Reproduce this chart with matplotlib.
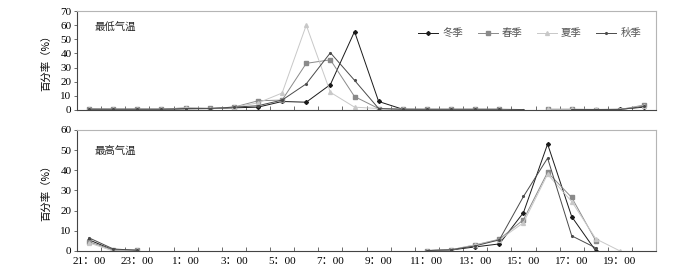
import numpy as np
import matplotlib.pyplot as plt

plt.rcParams['font.family'] = ['Liberation Serif', 'Noto Sans CJK SC']

nan = np.nan

# 21:00 .. 20:00 (24 hourly categories)
hours = [21, 22, 23] + list(range(0, 21))
tick_labels = ['%d：00' % h for h in hours[::2]]
seasons = ['冬季', '春季', '夏季', '秋季']

# 最低气温 (%)
low_winter = [0.5, 0.5, 0.5, 0.5, 0.8, 1, 1.5, 2, 6, 5.5, 18, 55.5, 6, 0.5, 0.3, 0.3, 0.3, 0.3, nan, 0.3, 0.3, 0.3, 0.5, 2]
low_spring = [0.8, 0.5, 0.5, 0.5, 1.5, 1.2, 2, 6.5, 7, 33, 35.5, 9.5, 1, 0.5, 0.5, 0.5, 0.5, 0.5, nan, 0.5, 0.5, 0.3, 0.3, 3.5]
low_summer = [0.5, 0.5, 0.5, 0.5, 1.5, 1, 2, 5, 12, 60, 12.5, 2, 1, 0.5, 0.5, 0.5, 0.5, 0.5, nan, 0.5, 0.5, 0.5, 0.3, 3]
low_autumn = [0.5, 0.5, 0.5, 0.5, 1, 1, 2, 3, 7, 18.5, 40.5, 21, 1, 0.5, 0.5, 0.5, 0.5, 0.5, 0.3, nan, 0.3, 0.3, 0.3, 2.5]

# 最高气温 (%)
high_winter = [5.5, 0.5, 0.3] + [nan] * 11 + [0.2, 0.5, 2, 3.5, 19, 53, 17, 0, nan, nan]
high_spring = [4.5, 0.5, 0.5] + [nan] * 11 + [0.2, 0.6, 3, 5.8, 15.5, 39, 26.5, 5, nan, nan]
high_summer = [4, 0, 0.3] + [nan] * 11 + [0.2, 0.6, 3, 5.5, 14, 38, 24.5, 6, 0, nan]
high_autumn = [6.5, 1, 0.3] + [nan] * 11 + [0.2, 0.6, 2.5, 5.5, 27, 46, 7.5, 1.5, nan, nan]

styles = [
    dict(color='#1a1a1a', marker='D', markersize=2),
    dict(color='#8a8a8a', marker='s', markersize=2.8),
    dict(color='#c8c8c8', marker='^', markersize=2.8),
    dict(color='#4a4a4a', marker='.', markersize=2.5),
]

x = np.arange(len(hours))

fig = plt.figure(figsize=(6.79, 2.77), dpi=100)
ax1 = fig.add_axes([0.1134, 0.603, 0.853, 0.357])
ax2 = fig.add_axes([0.1134, 0.094, 0.853, 0.437])

for ax, series, ymax, title in [
    (ax1, [low_winter, low_spring, low_summer, low_autumn], 70, '最低气温'),
    (ax2, [high_winter, high_spring, high_summer, high_autumn], 60, '最高气温'),
]:
    for name, vals, st in zip(seasons, series, styles):
        ax.plot(x, vals, lw=0.7, label=name, **st)
    ax.set_xlim(-0.5, 23.5)
    ax.set_ylim(0, ymax)
    ax.set_yticks(np.arange(0, ymax + 1, 10))
    ax.set_xticks(np.arange(-0.5, 24, 1), minor=True)
    ax.tick_params(axis='x', which='minor', direction='in', length=3, color='#555555', width=0.6)
    ax.tick_params(axis='y', length=2, color='#555555', width=0.6, labelsize=8, pad=2)
    for s in ['top', 'right']:
        ax.spines[s].set_color('#b5b5b5')
        ax.spines[s].set_linewidth(0.8)
    for s in ['left', 'bottom']:
        ax.spines[s].set_color('#444444')
        ax.spines[s].set_linewidth(0.8)
    ax.text(0.03, 0.83, title, transform=ax.transAxes, fontsize=7.5,
            family=['Noto Sans CJK SC'], va='center', color='#222222')
    ax.set_ylabel('百分率（%）', family=['Noto Sans CJK SC'], fontsize=7.5, labelpad=6)

ax1.set_xticks(x[::2])
ax1.set_xticklabels([])
ax1.tick_params(axis='x', which='major', length=0)
ax2.set_xticks(x[::2])
ax2.set_xticklabels(tick_labels, fontsize=8)
ax2.tick_params(axis='x', which='major', length=0, pad=4)

leg = ax1.legend(loc='upper right', bbox_to_anchor=(0.99, 0.92), ncol=4, frameon=False,
                 handlelength=1.9, columnspacing=1.4, handletextpad=0.4,
                 prop={'family': ['Noto Sans CJK SC'], 'size': 7.5})
for t in leg.get_texts():
    t.set_color('#555555')

fig.savefig('out.png', dpi=100)
